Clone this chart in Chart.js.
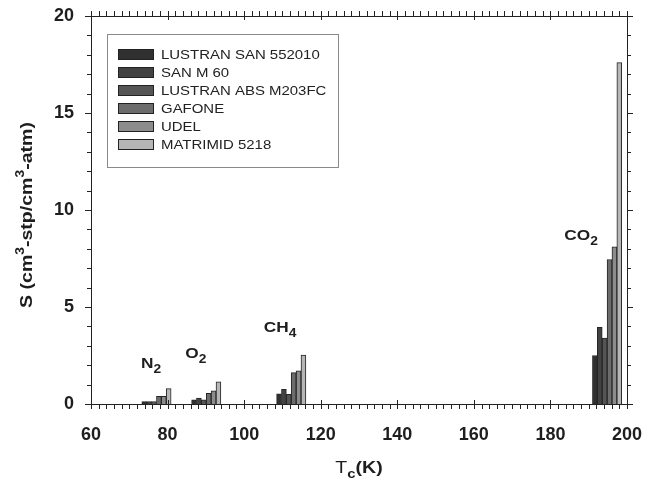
<!DOCTYPE html>
<html lang="en">
<head>
    <meta charset="UTF-8">
    <title>Solubility vs Tc</title>
    <script src="https://cdn.jsdelivr.net/npm/chart.js"></script>
    <style>
        body { margin: 0; background: #fff; }
        #wrap { width: 645px; height: 482px; }
    </style>
</head>
<body>
    <div id="wrap"><canvas id="solubilityChart" width="645" height="482"></canvas></div>

    <script>
        // gases and where each group sits on the Tc axis
        const gases = ['N', 'O', 'CH', 'CO'];
        const gasSubs = ['2', '2', '4', '2'];
        const gasX = [77.1, 90.1, 112.3, 194.8];
        // label anchors (data units)
        const labelX = [75.7, 87.4, 109.4, 188.0];
        const labelY = [1.86, 2.37, 3.71, 8.45];

        const polymers = ['LUSTRAN SAN 552010', 'SAN M 60', 'LUSTRAN ABS M203FC', 'GAFONE', 'UDEL', 'MATRIMID 5218'];
        const lustranSan = [0.12, 0.22, 0.53, 2.50];
        const sanM60 = [0.12, 0.31, 0.76, 3.95];
        const lustranAbs = [0.13, 0.22, 0.50, 3.40];
        const gafone = [0.39, 0.55, 1.62, 7.45];
        const udel = [0.39, 0.68, 1.71, 8.10];
        const matrimid = [0.79, 1.14, 2.52, 17.60];

        const xTicks = [60, 80, 100, 120, 140, 160, 180, 200];
        const yTicks = [0, 5, 10, 15, 20];

        const series = [lustranSan, sanM60, lustranAbs, gafone, udel, matrimid];
        const fills = ['#303030', '#424242', '#555555', '#6c6c6c', '#8c8c8c', '#b6b6b6'];
        const barStep = 1.275;
        const FONT = '"Liberation Sans", Arial, sans-serif';
        const STRETCH = 1.15;

        // draw a run of [text, size, weight, dy] pieces, stretched horizontally
        function pieces(ctx, parts) {
            let w = 0;
            parts.forEach(p => {
                ctx.font = p[2] + ' ' + p[1] + 'px ' + FONT;
                w += ctx.measureText(p[0]).width * STRETCH;
            });
            return w;
        }
        function drawPieces(ctx, parts, x, y) {
            let cx = x;
            parts.forEach(p => {
                ctx.font = p[2] + ' ' + p[1] + 'px ' + FONT;
                ctx.save();
                ctx.translate(cx, y + p[3]);
                ctx.scale(STRETCH, 1);
                ctx.fillText(p[0], 0, 0);
                ctx.restore();
                cx += ctx.measureText(p[0]).width * STRETCH;
            });
        }

        const decor = {
            id: 'decor',
            afterDraw(chart) {
                const {ctx, chartArea: a, scales: {x, y}} = chart;
                ctx.save();
                ctx.strokeStyle = '#222';
                ctx.lineWidth = 1;
                ctx.strokeRect(a.left + 0.5, a.top + 0.5, a.right - a.left, a.bottom - a.top);

                ctx.beginPath();
                for (let v = 60; v <= 200; v += 2) {
                    const px = Math.round(x.getPixelForValue(v)) + 0.5;
                    const major = v % 20 === 0;
                    ctx.moveTo(px, a.bottom - (major ? 4 : 0));
                    ctx.lineTo(px, a.bottom + 5);
                    ctx.moveTo(px, a.top + (major ? 4 : 0));
                    ctx.lineTo(px, a.top - 5);
                }
                for (let v = 0; v <= 20; v += 1) {
                    const py = Math.round(y.getPixelForValue(v)) + 0.5;
                    const major = v % 5 === 0;
                    ctx.moveTo(a.left - (major ? 6 : 4), py);
                    ctx.lineTo(a.left, py);
                    ctx.moveTo(a.right, py);
                    ctx.lineTo(a.right + (major ? 6 : 4), py);
                }
                ctx.stroke();

                ctx.fillStyle = '#1e1e1e';
                ctx.textBaseline = 'alphabetic';
                ctx.textAlign = 'left';

                // gas labels
                gases.forEach((g, i) => {
                    const parts = [[g, 15, 'bold', 0], [gasSubs[i], 12, 'bold', 5]];
                    const w = pieces(ctx, parts);
                    drawPieces(ctx, parts, x.getPixelForValue(labelX[i]) - w / 2, y.getPixelForValue(labelY[i]));
                });

                // x title
                const xt = [['T', 17, 'normal', 0], ['c', 13, 'bold', 5], ['(K)', 17, 'bold', 0]];
                const xw = pieces(ctx, xt);
                drawPieces(ctx, xt, (a.left + a.right) / 2 - xw / 2, 473);

                // y title
                const yt = [['S (cm', 17, 'bold', 0], ['3', 12, 'bold', -8], ['-stp/cm', 17, 'bold', 0],
                            ['3', 12, 'bold', -8], ['-atm)', 17, 'bold', 0]];
                const yw = pieces(ctx, yt);
                ctx.save();
                ctx.translate(32, (a.top + a.bottom) / 2 + yw / 2 + 5);
                ctx.rotate(-Math.PI / 2);
                drawPieces(ctx, yt, 0, 0);
                ctx.restore();

                // legend
                const lx = a.left + 16, ly = a.top + 18;
                ctx.strokeStyle = '#8a8a8a';
                ctx.strokeRect(lx + 0.5, ly + 0.5, 231, 133);
                polymers.forEach((name, i) => {
                    const ry = ly + 20 + i * 18;
                    ctx.fillStyle = fills[i];
                    ctx.fillRect(lx + 11, ry - 5, 35, 10);
                    ctx.strokeStyle = '#222';
                    ctx.strokeRect(lx + 11.5, ry - 4.5, 35, 10);
                    ctx.fillStyle = '#222';
                    drawPieces(ctx, [[name, 13, 'normal', 0]], lx + 54, ry + 5);
                });
                ctx.restore();
            }
        };

        const ctx = document.getElementById('solubilityChart').getContext('2d');
        new Chart(ctx, {
            type: 'bar',
            data: {
                datasets: series.map((vals, i) => ({
                    label: polymers[i],
                    data: gasX.map((gx, g) => ({x: gx + (i - 2.5) * barStep, y: vals[g]})),
                    backgroundColor: fills[i],
                    borderColor: '#262626',
                    borderWidth: 1,
                    borderSkipped: 'bottom',
                    grouped: false,
                    barPercentage: 1,
                    categoryPercentage: 1
                }))
            },
            options: {
                responsive: false,
                animation: false,
                layout: { padding: { left: 0, top: 16, right: 18, bottom: 0 } },
                plugins: { legend: { display: false }, tooltip: { enabled: false } },
                scales: {
                    x: {
                        type: 'linear', min: 60, max: 200, offset: false,
                        afterFit: s => { s.height = 78; s.paddingLeft = 0; s.paddingRight = 0; },
                        afterBuildTicks: s => { s.ticks = xTicks.map(v => ({value: v})); },
                        grid: { display: false, drawTicks: false },
                        border: { display: false },
                        ticks: { padding: 20, color: '#1e1e1e', font: { family: FONT, size: 18, weight: 'bold' } }
                    },
                    y: {
                        min: 0, max: 20,
                        afterFit: s => { s.width = 91; s.paddingTop = 0; s.paddingBottom = 0; },
                        afterBuildTicks: s => { s.ticks = yTicks.map(v => ({value: v})); },
                        grid: { display: false, drawTicks: false },
                        border: { display: false },
                        ticks: { padding: 17, color: '#1e1e1e', font: { family: FONT, size: 18, weight: 'bold' } }
                    }
                }
            },
            plugins: [decor]
        });
    </script>
</body>
</html>
